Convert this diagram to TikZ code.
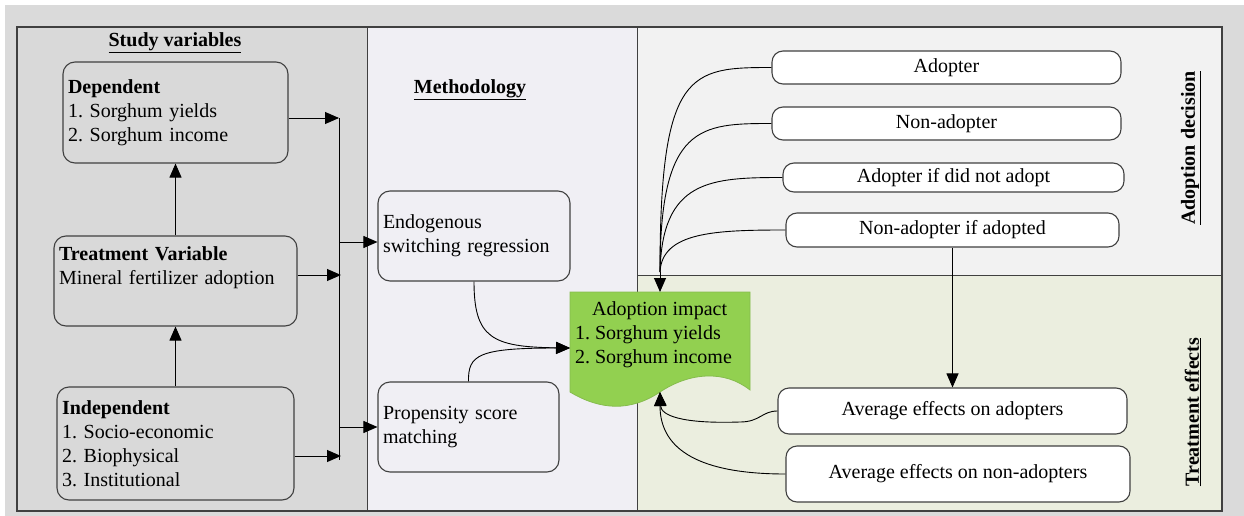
\documentclass[tikz,border=0pt]{standalone}
\usepackage{fontspec}
\setmainfont{Liberation Serif}
\usetikzlibrary{arrows.meta}
\definecolor{outerbg}{HTML}{DADADA}
\definecolor{panelA}{HTML}{D9D9D9}
\definecolor{panelB}{HTML}{F0EFF4}
\definecolor{panelC}{HTML}{F2F2F2}
\definecolor{panelD}{HTML}{EBEEDF}
\definecolor{leaf}{HTML}{92D050}
\definecolor{leafedge}{HTML}{86BC4E}
\definecolor{edgegray}{HTML}{404040}
\frenchspacing
\begin{document}
\begin{tikzpicture}[x=1pt,y=-1pt,
  font={\fontsize{20}{24}\selectfont\frenchspacing},
  lbox/.style={draw=edgegray, line width=1.1pt, rounded corners=12pt, align=left, inner xsep=5pt, inner ysep=0pt},
  wbox/.style={draw=edgegray, fill=white, line width=1.1pt, rounded corners=11pt, inner sep=0pt, align=center},
  arr/.style={-{Triangle[length=14pt,width=12pt]}, line width=0.9pt},
  link/.style={line width=0.9pt},
  title/.style={font={\fontsize{20}{24}\selectfont\bfseries}, inner sep=0pt}]
\useasboundingbox (0,0) rectangle (1244,516);
\fill[outerbg] (5,5) rectangle (1244,516);
% panels
\fill[panelA] (17,27) rectangle (367,511);
\fill[panelB] (367,27) rectangle (637,511);
\fill[panelC] (637,27) rectangle (1222,275);
\fill[panelD] (637,275) rectangle (1222,511);
\draw[edgegray, line width=1.3pt] (17,27) rectangle (1222,511);
\draw[edgegray, line width=1pt] (367,27) -- (367,511) (637,27) -- (637,511) (637,275) -- (1222,275);
% titles
\node[title] (tsv) at (175,43) {\underline{Study variables}};
\node[title] (tme) at (470,90) {\underline{Methodology}};
\node[title, rotate=90] (tad) at (1191,148) {\underline{Adoption decision}};
\node[title, rotate=90] (tte) at (1193,412) {\underline{Treatment effects}};
% left boxes
\node[lbox, text width=215pt, minimum height=101pt] (dep) at (175.5,112.5)
  {\textbf{Dependent}\\1. Sorghum yields\\2. Sorghum income};
\node[lbox, text width=233pt, minimum height=90pt] (treat) at (175.5,281)
  {\textbf{Treatment Variable}\\Mineral fertilizer adoption\\\strut};
\node[lbox, text width=227pt, minimum height=113pt] (indep) at (175.5,443.5)
  {\textbf{Independent}\\1. Socio-economic\\2. Biophysical\\3. Institutional};
% methodology boxes
\node[lbox, text width=182pt, minimum height=90pt] (endo) at (474,236)
  {Endogenous\\switching regression};
\node[lbox, text width=171pt, minimum height=90pt] (prop) at (468.5,427)
  {Propensity score\\matching};
% adoption impact document shape
\draw[fill=leaf, draw=leafedge, line width=0.8pt] (570,292) -- (750,292) -- (750,390)
  .. controls (725,370) and (690,372) .. (660,392)
  .. controls (630,412) and (600,410) .. (570,392) -- cycle;
\node[align=left, inner sep=0pt] (imp) at (653.5,335)
  {\hspace*{17pt}Adoption impact\\1. Sorghum yields\\2. Sorghum income};
\coordinate (impW) at (570,348);
\coordinate (impN) at (660,292);
\coordinate (impS) at (660,392);
% right boxes
\node[wbox, minimum width=349pt, minimum height=33pt] (ad) at (946.5,67.5) {Adopter};
\node[wbox, minimum width=349pt, minimum height=33pt] (nad) at (946.5,123.5) {Non-adopter};
\node[wbox, minimum width=341pt, minimum height=29pt] (adn) at (953.5,177.5) {Adopter if did not adopt};
\node[wbox, minimum width=333pt, minimum height=34pt] (naa) at (952.5,230) {Non-adopter if adopted};
\node[wbox, minimum width=349pt, minimum height=46pt] (aea) at (952.5,411) {Average effects on adopters};
\node[wbox, minimum width=344pt, minimum height=56pt] (aen) at (958,474) {Average effects on non-adopters};
% left connectors
\draw[arr] (treat.north) -- (dep.south);
\draw[arr] (indep.north) -- (treat.south);
\coordinate (bt) at (339,118);
\coordinate (bb) at (339,460);
\coordinate (bm) at (341,275);
\coordinate (bl) at (341,456);
\coordinate (be) at (339,242);
\coordinate (bp) at (339,427);
\draw[link] (bt) -- (bb);
\draw[arr] (dep.east |- bt) -- (bt);
\draw[arr] (treat.east |- bm) -- (bm);
\draw[arr] (indep.east |- bl) -- (bl);
\draw[arr] (be) -- (endo.west |- be);
\draw[arr] (bp) -- (prop.west);
% methodology to impact
\draw[arr] (endo.south) .. controls (474,338) and (492,347) .. (impW);
\draw[arr] (prop.north) .. controls (468,355) and (478,348) .. (impW);
% adoption decision curves
\coordinate (j) at (660,272);
\draw[link] (ad.west) .. controls (690,67.5) and (660,70) .. (j);
\draw[link] (nad.west) .. controls (700,123.5) and (660,125) .. (j);
\draw[link] (adn.west) .. controls (710,177.5) and (662,180) .. (j);
\draw[link] (naa.west) .. controls (715,230) and (662,232) .. (j);
\draw[arr] (j) -- (impN);
\draw[arr] (naa.south) -- (aea.north);
% treatment effects curves
\draw[arr] (aea.west) .. controls (762,411) and (760,422) .. (740,422)
  .. controls (680,424) and (661,415) .. (impS);
\draw[arr] (aen.west) .. controls (700,474) and (660,450) .. (impS);
\end{tikzpicture}
\end{document}
